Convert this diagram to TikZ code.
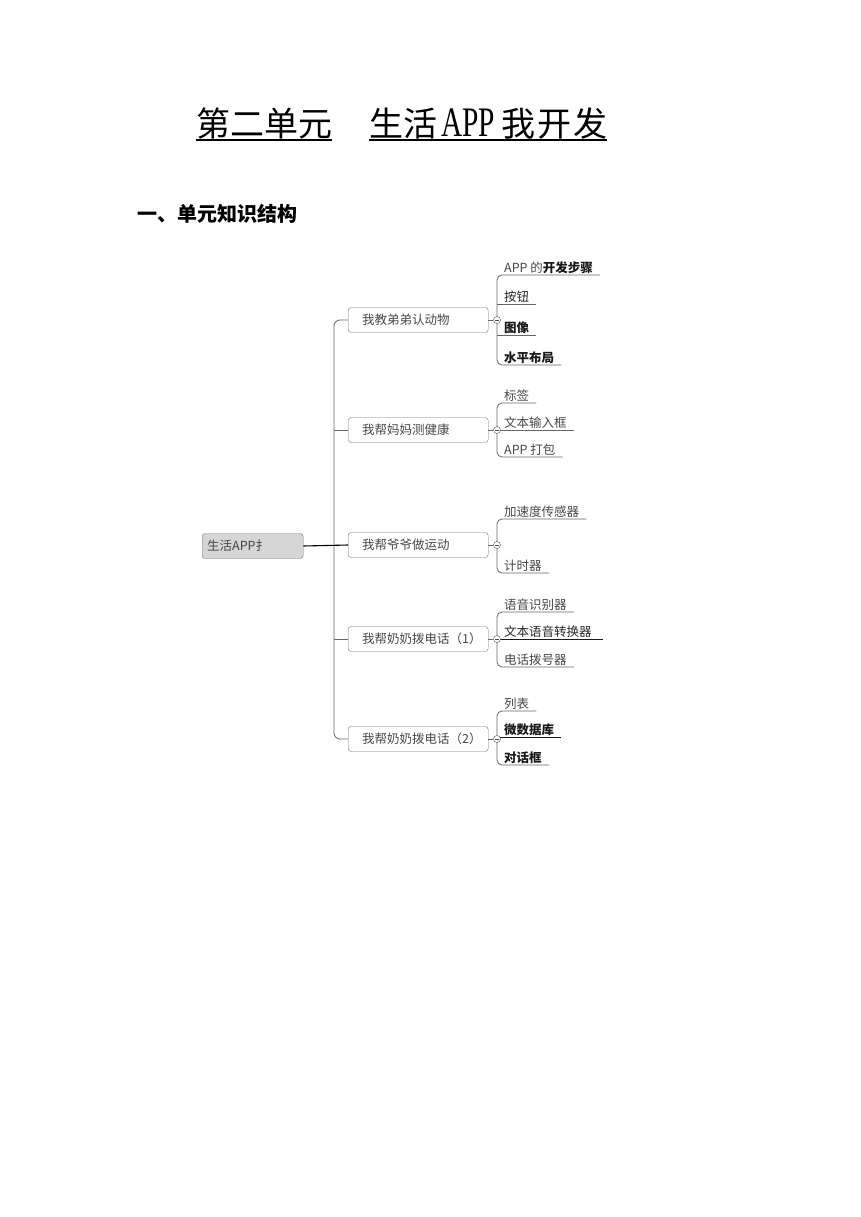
\documentclass[tikz,border=0pt]{standalone}
\usepackage{fontspec}
\newfontfamily\cjk{Noto Sans CJK SC}
\newfontfamily\tms{Liberation Serif}
\usetikzlibrary{positioning,calc}

\begin{document}
\begin{tikzpicture}[x=1pt,y=-1pt,
  topic/.style={draw=black!55,rounded corners=3pt,inner xsep=14pt,inner ysep=0pt,
    minimum height=25pt,text=black!72,font=\cjk\fontsize{12.5}{14}\selectfont},
  root/.style={topic,fill=black!16,inner xsep=5pt},
  leaf/.style={anchor=south west,inner xsep=7pt,inner ysep=1.5pt,text=black!72,
    font=\cjk\fontsize{12.5}{14}\selectfont},
  knob/.style={circle,draw=black!70,fill=white,inner sep=0pt,minimum size=7pt,
    path picture={\draw[black!70,line width=0.5pt]
      ([xshift=1.5pt]path picture bounding box.west) --
      ([xshift=-1.5pt]path picture bounding box.east);}},
  ln/.style={draw=black!60,line width=0.8pt},
  dk/.style={draw=black!90,line width=1pt}]
  \useasboundingbox (0,0) rectangle (860,1217);

  \node[anchor=base west,inner sep=0pt,font=\cjk\fontsize{34}{40}\selectfont] (h1) at (196,137) {第二单元};
  \node[anchor=base west,inner sep=0pt,font=\cjk\fontsize{34}{40}\selectfont] (h2) at (369,137)
    {生活\hspace{4pt}{\tms\fontsize{42}{42}\selectfont\scalebox{0.7}[1]{APP}}\hspace{6pt}我\hspace{2pt}开\hspace{2pt}发};
  \draw[line width=1.2pt] ([yshift=-3pt]h1.base west) -- ([yshift=-3pt]h1.base east);
  \draw[line width=1.2pt] ([yshift=-3pt]h2.base west) -- ([yshift=-3pt]h2.base east);
  \node[anchor=west,inner sep=0pt,font=\cjk\bfseries\fontsize{20}{22}\selectfont] (sec) at (137,214) {一、单元知识结构};

  \node[root,anchor=west] (rt) at (202,546) {\makebox[91pt][l]{生活APP扌}};
  \node[topic,anchor=west] (t1) at (348,320) {\makebox[112pt][l]{我教弟弟认动物}};
  \node[topic,anchor=west] (t2) at (348,430) {\makebox[112pt][l]{我帮妈妈测健康}};
  \node[topic,anchor=west] (t3) at (348,545) {\makebox[112pt][l]{我帮爷爷做运动}};
  \node[topic,anchor=west] (t4) at (348,639) {\makebox[112pt][l]{我帮奶奶拨电话（1）}};
  \node[topic,anchor=west] (t5) at (348,739) {\makebox[112pt][l]{我帮奶奶拨电话（2）}};

  \draw[ln,rounded corners=6pt] (t1.west) -- ++(-14,0) |- (t5.west);
  \draw[ln] (t2.west) -- ++(-14,0);
  \draw[ln] (t4.west) -- ++(-14,0);
  \draw[black,line width=1.1pt] (rt.east) -- (t3.west);

  \node[leaf] (l11) at (497,275) {APP 的{\bfseries\color{black!90}开发步骤}};
  \node[leaf,text=black!85] (l12) at (497,304) {按钮};
  \node[leaf] (l13) at (497,335) {\bfseries\color{black!90}图像};
  \node[leaf] (l14) at (497,365) {\bfseries\color{black!90}水平布局};
  \node[leaf] (l21) at (497,403) {标签};
  \node[leaf] (l22) at (497,430) {文本输入框};
  \node[leaf] (l23) at (497,457) {APP 打包};
  \node[leaf] (l31) at (497,519) {加速度传感器};
  \node[leaf] (l32) at (497,573) {计时器};
  \node[leaf] (l41) at (497,612) {语音识别器};
  \node[leaf,text=black!85] (l42) at (497,639) {文本语音转换器};
  \node[leaf] (l43) at (497,667) {电话拨号器};
  \node[leaf] (l51) at (497,711) {列表};
  \node[leaf] (l52) at (497,737) {\bfseries\color{black!90}微数据库};
  \node[leaf] (l53) at (497,765) {\bfseries\color{black!90}对话框};

  \draw[ln,rounded corners=5pt] (l11.south east) -- (l11.south west) -- (l14.south west) -- (l14.south east);
  \draw[ln] (l12.south west) -- (l12.south east);
  \draw[ln] (l13.south west) -- (l13.south east);
  \draw[ln,rounded corners=5pt] (l21.south east) -- (l21.south west) -- (l23.south west) -- (l23.south east);
  \draw[ln] (l22.south west) -- (l22.south east);
  \draw[ln,rounded corners=5pt] (l31.south east) -- (l31.south west) -- (l32.south west) -- (l32.south east);
  \draw[ln,rounded corners=5pt] (l41.south east) -- (l41.south west) -- (l43.south west) -- (l43.south east);
  \draw[dk] (l42.south west) -- ([xshift=4pt]l42.south east);
  \draw[ln,rounded corners=5pt] (l51.south east) -- (l51.south west) -- (l53.south west) -- (l53.south east);
  \draw[dk] (l52.south west) -- (l52.south east);

  \node[knob] (k1) at (497,320) {};
  \node[knob] (k2) at (497,430) {};
  \node[knob] (k3) at (497,545) {};
  \node[knob] (k4) at (497,639) {};
  \node[knob] (k5) at (497,739) {};
  \draw[ln] (t1.east) -- (k1.west);
  \draw[ln] (t2.east) -- (k2.west);
  \draw[ln] (t3.east) -- (k3.west);
  \draw[ln] (t4.east) -- (k4.west);
  \draw[ln] (t5.east) -- (k5.west);
\end{tikzpicture}
\end{document}
